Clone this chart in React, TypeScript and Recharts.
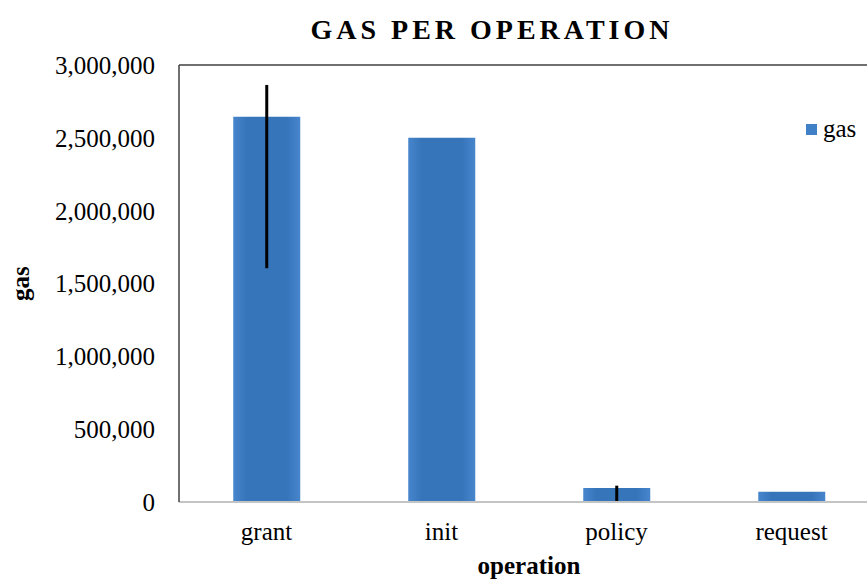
import { BarChart, Bar, XAxis, YAxis, ErrorBar, ReferenceLine, Label } from "recharts";

const operations = ["grant", "init", "policy", "request"];
const gasValues = [2645000, 2500000, 96000, 70000];
// [below, above] the bar top
const gasErrors: [number, number][] = [
  [1040000, 218000],
  [0, 0],
  [96000, 16000],
  [0, 0],
];
const yTicks = [0, 500000, 1000000, 1500000, 2000000, 2500000, 3000000];

const data = operations.map((op, i) => ({
  operation: op,
  gas: gasValues[i],
  err: gasErrors[i],
}));

const FONT = "'Liberation Serif', 'Times New Roman', serif";

const fmt = (v: number) => v.toLocaleString("en-US");

const App = () => (
  <div
    style={{
      position: "absolute",
      left: 0,
      top: 0,
      width: 867,
      height: 579,
      overflow: "hidden",
      background: "#fff",
      fontFamily: FONT,
    }}
  >
    <div
      style={{
        position: "absolute",
        top: 13,
        left: 0,
        width: 984,
        textAlign: "center",
        fontSize: 28,
        lineHeight: "34px",
        fontWeight: "bold",
        letterSpacing: 4,
        color: "#000",
      }}
    >
      GAS PER OPERATION
    </div>
    {/* legend */}
    <div
      style={{
        position: "absolute",
        top: 114,
        left: 806,
        display: "flex",
        alignItems: "center",
        fontSize: 25,
        lineHeight: "30px",
        color: "#000",
      }}
    >
      <span style={{ display: "inline-block", width: 11, height: 11, background: "#3f80c6", marginRight: 6 }} />
      <span>gas</span>
    </div>
    <BarChart
      width={900}
      height={579}
      data={data}
      margin={{ top: 65, right: 21, bottom: 37, left: 29 }}
      barCategoryGap="31%"
    >
      <defs>
        <linearGradient id="barFill" x1="0" y1="0" x2="1" y2="0">
          <stop offset="0%" stopColor="#4786cc" />
          <stop offset="20%" stopColor="#3675ba" />
          <stop offset="80%" stopColor="#3675ba" />
          <stop offset="100%" stopColor="#4786cc" />
        </linearGradient>
      </defs>
      <XAxis
        dataKey="operation"
        height={40}
        tickLine={false}
        tickSize={0}
        tickMargin={20}
        axisLine={{ stroke: "#c4c4c4", strokeWidth: 2 }}
        tick={{ fill: "#000", fontSize: 25, fontFamily: FONT }}
      >
        <Label
          value="operation"
          position="insideBottom"
          offset={-32}
          style={{ fill: "#000", fontSize: 25, fontWeight: "bold", fontFamily: FONT }}
        />
      </XAxis>
      <YAxis
        width={150}
        domain={[0, 3000000]}
        ticks={yTicks}
        tickFormatter={fmt}
        tickLine={false}
        tickSize={0}
        tickMargin={24}
        axisLine={{ stroke: "#404040", strokeWidth: 1.5 }}
        tick={{ fill: "#000", fontSize: 25, fontFamily: FONT }}
      >
        <Label
          value="gas"
          angle={-90}
          position="insideLeft"
          offset={-9}
          style={{ fill: "#000", fontSize: 25, fontWeight: "bold", fontFamily: FONT, textAnchor: "middle" }}
        />
      </YAxis>
      <ReferenceLine y={3000000} stroke="#404040" strokeWidth={1.5} />
      <Bar dataKey="gas" name="gas" fill="url(#barFill)" isAnimationActive={false}>
        <ErrorBar dataKey="err" width={0} stroke="#000" strokeWidth={3} direction="y" />
      </Bar>
    </BarChart>
  </div>
);

export default App;
